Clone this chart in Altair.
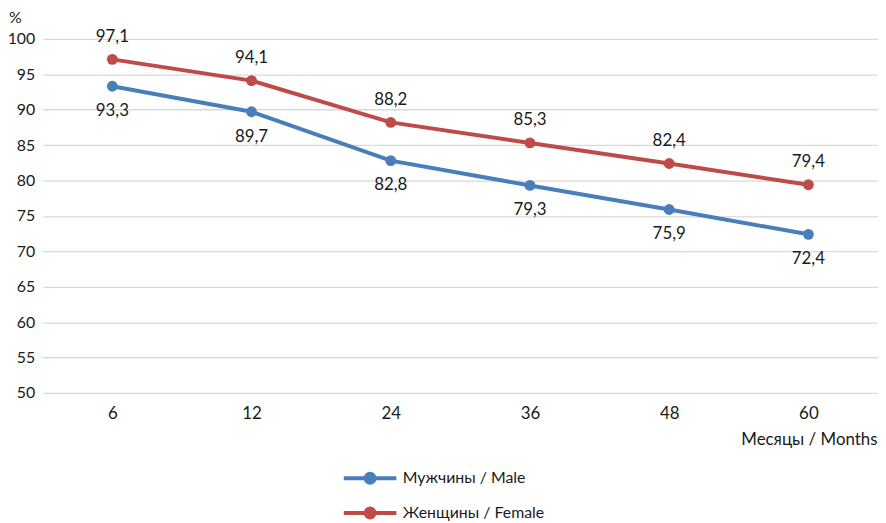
import altair as alt
import pandas as pd

months = ["6", "12", "24", "36", "48", "60"]
male = [93.3, 89.7, 82.8, 79.3, 75.9, 72.4]
female = [97.1, 94.1, 88.2, 85.3, 82.4, 79.4]
series = ["Мужчины / Male", "Женщины / Female"]
colors = ["#4a7ebb", "#be4b48"]

rows = []
for m, v in zip(months, male):
    rows.append({"month": m, "value": v, "series": series[0]})
for m, v in zip(months, female):
    rows.append({"month": m, "value": v, "series": series[1]})
df = pd.DataFrame(rows)

FONT = "Lato"
TXT = "#1a1a1a"
FS = 17

x = alt.X("month:N", sort=months,
          scale=alt.Scale(type="point", padding=0.5),
          axis=alt.Axis(title="Месяцы / Months", labelAngle=0, ticks=False,
                        domain=False, grid=False, labelPadding=13,
                        labelFontSize=FS,
                        titleAnchor="end", titleAlign="right", titleX=841,
                        titleY=47, titleBaseline="middle",
                        titleFontWeight="normal"))
y = alt.Y("value:Q",
          scale=alt.Scale(domain=[50, 100], nice=False, zero=False),
          axis=alt.Axis(title="%", values=list(range(50, 101, 5)), ticks=False,
                        domain=False, labelPadding=8, labelFontSize=16,
                        titleAngle=0, titleX=-28, titleY=-21,
                        titleAlign="center", titleBaseline="middle",
                        titleFontWeight="normal", titleFontSize=16))

# unit = 10px (symbolSize 400 -> 20px nominal box)
legend_path = ("M-2.65,0 L2.65,0 M-0.45,0 A0.45,0.45 0 1,1 0.45,0 "
               "A0.45,0.45 0 1,1 -0.45,0 Z")
color = alt.Color("series:N", sort=series,
                  scale=alt.Scale(domain=series, range=colors),
                  legend=alt.Legend(title=None, orient="none", legendX=318,
                                    legendY=431, symbolType=legend_path,
                                    symbolSize=400, symbolStrokeWidth=4,
                                    rowPadding=9, labelOffset=21,
                                    labelFontSize=16, labelFont=FONT,
                                    labelColor=TXT))

base = alt.Chart(df)
lines = base.mark_line(strokeWidth=4).encode(x=x, y=y, color=color)
points = base.mark_point(filled=True, size=120, opacity=1).encode(
    x=x, y=y, color=alt.Color("series:N", sort=series,
                              scale=alt.Scale(domain=series, range=colors),
                              legend=None))
lab_f = base.transform_filter(alt.datum.series == series[1]).transform_calculate(
    lab="replace(format(datum.value, '.1f'), '.', ',')"
).mark_text(dy=-23, fontSize=FS, font=FONT, color=TXT).encode(
    x=x, y=y, text="lab:N")
lab_m = base.transform_filter(alt.datum.series == series[0]).transform_calculate(
    lab="replace(format(datum.value, '.1f'), '.', ',')"
).mark_text(dy=25, fontSize=FS, font=FONT, color=TXT).encode(
    x=x, y=y, text="lab:N")

chart = alt.layer(lines, points, lab_f, lab_m).properties(
    width=842, height=357,
    autosize=alt.AutoSizeParams(type="none"),
    padding={"left": 35, "top": 29, "right": 0, "bottom": 128},
).configure_view(stroke=None).configure_axis(
    labelFont=FONT, titleFont=FONT, titleFontSize=FS,
    labelColor=TXT, titleColor=TXT, gridColor="#d9d9d9", gridWidth=1.3
)

chart.save("out.html", embed_options={"renderer": "svg", "actions": False})
